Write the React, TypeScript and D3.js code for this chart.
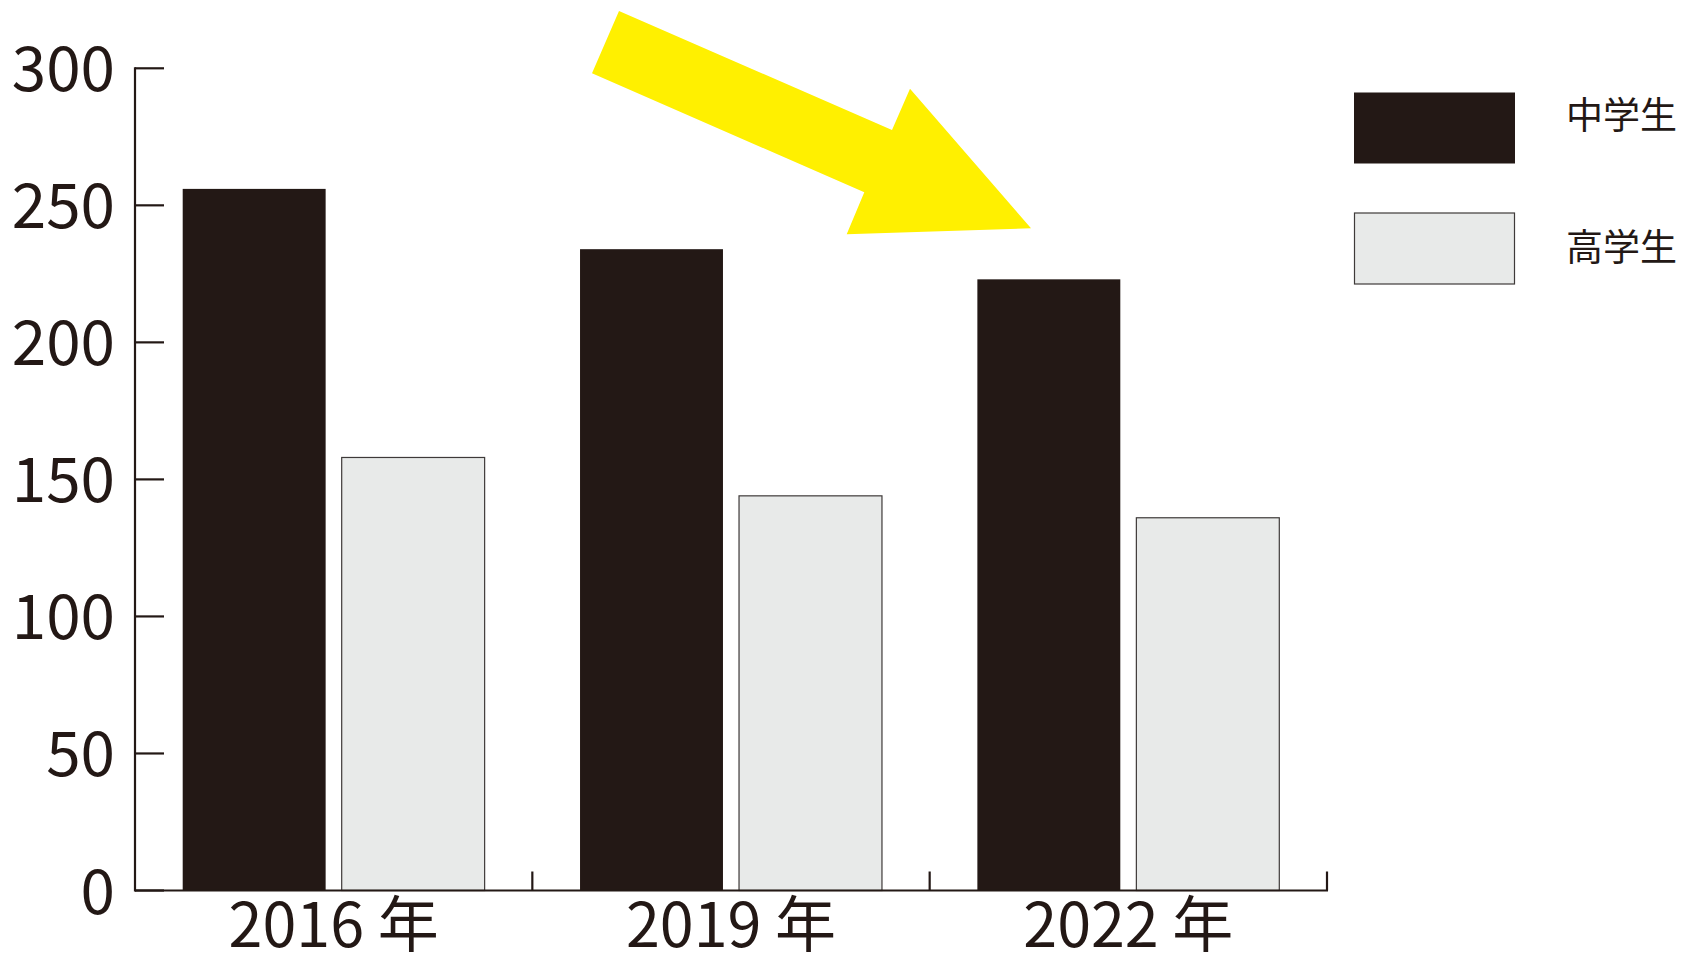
import React from "react";
import * as d3 from "d3";

const categories = ["2016 年", "2019 年", "2022 年"];
const seriesNames = ["中学生", "高学生"];
const juniorHigh = [256, 234, 223];
const highSchool = [158, 144, 136];
const yTicks = [0, 50, 100, 150, 200, 250, 300];

const INK = "#231815";
const LIGHT = "#e8eae9";
const YELLOW = "#fff000";
const FONT = "'Noto Sans CJK JP', 'Noto Sans', sans-serif";

export default function App() {
  const W = 1686, H = 956;
  const x0 = 135, x1 = 1327, yTop = 68.3, yBase = 890.5;
  const x = d3.scaleBand<string>().domain(categories).range([x0, x1]).paddingInner(0).paddingOuter(0);
  const xs = d3.scaleBand<string>().domain(seriesNames).range([0, x.bandwidth()]).paddingInner(0.101).paddingOuter(0.3);
  const y = d3.scaleLinear().domain([0, 300]).range([yBase, yTop]);
  const values = [juniorHigh, highSchool];
  const fills = [INK, LIGHT];

  // arrow polygon (annotation)
  const arrowPts: [number, number][] = [
    [619, 11], [892, 130], [910, 88.7], [1031, 228.3], [846.7, 234.3], [864.3, 192.3], [592, 73.3],
  ];
  const arrowPath = d3.line()(arrowPts) + "Z";

  const ticksX = categories.map((c) => (x(c) as number) + x.bandwidth());

  return (
    <svg width={W} height={H} style={{ position: "absolute", left: 0, top: 0, background: "#fff" }} fontFamily={FONT}>
      {/* bars */}
      {categories.map((c, i) =>
        seriesNames.map((s, j) => {
          const bx = (x(c) as number) + (xs(s) as number);
          const v = values[j][i];
          return (
            <rect key={c + s} x={bx} y={y(v)} width={xs.bandwidth()} height={yBase - y(v)}
              fill={fills[j]} stroke={j === 1 ? "#3e3a39" : "none"} strokeWidth={1.2} />
          );
        })
      )}
      {/* y axis */}
      <line x1={x0} x2={x0} y1={yTop - 1} y2={yBase + 1} stroke={INK} strokeWidth={2.2} />
      {yTicks.map((t) => (
        <g key={t}>
          <line x1={x0} x2={x0 + 29} y1={y(t)} y2={y(t)} stroke={INK} strokeWidth={2.2} />
          <text x={115} y={y(t) + 23} textAnchor="end" fontSize={62} fill={INK}>{t}</text>
        </g>
      ))}
      {/* x axis */}
      <line x1={x0} x2={x1 + 1} y1={yBase} y2={yBase} stroke={INK} strokeWidth={2.2} />
      {ticksX.map((tx, i) => (
        <line key={i} x1={tx} x2={tx} y1={yBase} y2={yBase - 19} stroke={INK} strokeWidth={2.2} />
      ))}
      {categories.map((c) => (
        <text key={c} x={(x(c) as number) + x.bandwidth() / 2} y={947} textAnchor="middle" fontSize={61} fill={INK}>{c}</text>
      ))}
      {/* legend */}
      <rect x={1354} y={92.5} width={161} height={71} fill={INK} />
      <rect x={1354.5} y={213} width={160} height={71} fill={LIGHT} stroke="#3e3a39" strokeWidth={1.2} />
      <text x={1566} y={128.5} fontSize={37} fill={INK}>{seriesNames[0]}</text>
      <text x={1566} y={260.5} fontSize={37} fill={INK}>{seriesNames[1]}</text>
      {/* arrow */}
      <path d={arrowPath} fill={YELLOW} />
    </svg>
  );
}
